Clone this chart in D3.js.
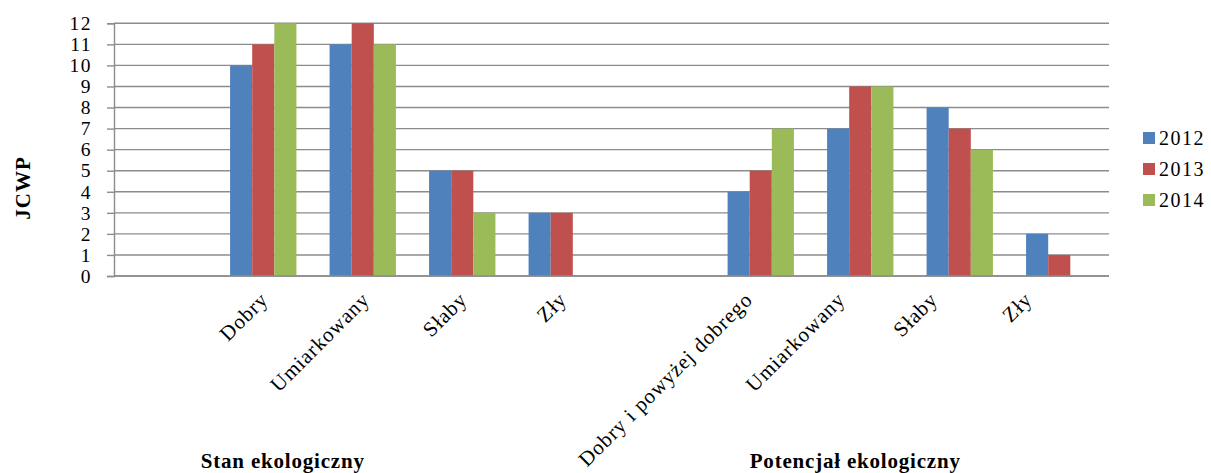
<!DOCTYPE html>
<html>
<head>
<meta charset="utf-8">
<script src="https://cdn.jsdelivr.net/npm/d3@7"></script>
<style>
  html, body { margin: 0; padding: 0; background: #fff; }
  svg { display: block; }
  svg text { font-family: "Liberation Serif", "Times New Roman", "DejaVu Serif", serif; fill: #000; }
</style>
</head>
<body>
<svg id="chart" width="1211" height="473"></svg>
<script>
// Category slots along the x axis (empty slots separate the two groups)
const categories = ["", "Dobry", "Umiarkowany", "Słaby", "Zły", "", "Dobry i powyżej dobrego", "Umiarkowany", "Słaby", "Zły"];
const groupNames = ["Stan ekologiczny", "Potencjał ekologiczny"];
const groupSpans = [[0, 4], [5, 9]];
const seriesNames = ["2012", "2013", "2014"];
const values2012 = [null, 10, 11, 5, 3, null, 4, 7, 8, 2];
const values2013 = [null, 11, 12, 5, 3, null, 5, 9, 7, 1];
const values2014 = [null, 12, 11, 3, null, null, 7, 9, 6, null];
const yTicks = [0, 1, 2, 3, 4, 5, 6, 7, 8, 9, 10, 11, 12];
const colors = ["#4F81BD", "#C0504D", "#9BBB59"];

// Layout
const SERIF = '"Liberation Serif", "Times New Roman", "DejaVu Serif", serif';
const plot = { left: 114, right: 1109, top: 23.3, bottom: 276 };
const labelShift = [0, 5, 7, 5, 5, 0, -8, -15, -22, -27];
const groupLabelShift = [-80, -5];

const series = [values2012, values2013, values2014];
const svg = d3.select("#chart");

const x = d3.scaleBand()
  .domain(d3.range(categories.length))
  .range([plot.left, plot.right])
  .paddingInner(0).paddingOuter(0);

// gap width 50% of a bar group
const bw = x.bandwidth();
const gap = bw * 0.5 / 1.5;
const xs = d3.scaleBand()
  .domain(d3.range(seriesNames.length))
  .range([gap / 2, bw - gap / 2]);

const y = d3.scaleLinear().domain([0, 12]).range([plot.bottom, plot.top]);

// gridlines
svg.append("g")
  .selectAll("line")
  .data(yTicks)
  .join("line")
  .attr("x1", plot.left).attr("x2", plot.right)
  .attr("y1", d => y(d)).attr("y2", d => y(d))
  .attr("stroke", "#8c8c8c").attr("stroke-width", 1.4);

// bars
const barG = svg.append("g");
series.forEach((vals, si) => {
  barG.append("g")
    .selectAll("rect")
    .data(vals.map((v, i) => ({ v, i })).filter(d => d.v != null))
    .join("rect")
    .attr("x", d => x(d.i) + xs(si))
    .attr("width", xs.bandwidth())
    .attr("y", d => y(d.v))
    .attr("height", d => y(0) - y(d.v))
    .attr("fill", colors[si]);
});

// y axis
const yAxis = d3.axisLeft(y).tickValues(yTicks).tickSize(7).tickPadding(15).tickFormat(d3.format("d"));
const yg = svg.append("g").attr("transform", `translate(${plot.left},0)`).call(yAxis)
  .attr("font-family", SERIF).attr("font-size", 19.5);
yg.select(".domain").attr("stroke", "#8c8c8c").attr("stroke-width", 1.4);
yg.selectAll(".tick line").attr("stroke", "#8c8c8c").attr("stroke-width", 1.4);
yg.selectAll(".tick text")
  .attr("font-family", SERIF)
  .attr("font-size", 19.5)
  .attr("letter-spacing", "1.5px")
  .attr("fill", "#000");

// x axis line
svg.append("line")
  .attr("x1", plot.left).attr("x2", plot.right)
  .attr("y1", y(0)).attr("y2", y(0))
  .attr("stroke", "#8c8c8c").attr("stroke-width", 1.4);

// rotated category labels
svg.append("g")
  .selectAll("text")
  .data(categories.map((c, i) => ({ c, i })).filter(d => d.c !== ""))
  .join("text")
  .attr("transform", d => `translate(${x(d.i) + bw / 2 + labelShift[d.i] + 1},${y(0) + 25}) rotate(-45)`)
  .attr("text-anchor", "end")
  .attr("font-family", SERIF)
  .attr("font-size", 21)
  .attr("letter-spacing", "0.9px")
  .text(d => d.c);

// group labels
svg.append("g")
  .selectAll("text")
  .data(groupNames.map((g, i) => ({ g, i })))
  .join("text")
  .attr("x", d => (x(groupSpans[d.i][0]) + x(groupSpans[d.i][1]) + bw) / 2 + groupLabelShift[d.i])
  .attr("y", 468)
  .attr("text-anchor", "middle")
  .attr("font-family", SERIF)
  .attr("font-size", 21)
  .attr("font-weight", "bold")
  .attr("letter-spacing", "0.8px")
  .text(d => d.g);

// y axis title
svg.append("text")
  .attr("transform", `translate(30,188) rotate(-90)`)
  .attr("text-anchor", "middle")
  .attr("font-family", SERIF)
  .attr("font-size", 21)
  .attr("font-weight", "bold")
  .attr("letter-spacing", "1px")
  .text("JCWP");

// legend
const lg = svg.append("g").attr("transform", "translate(1143,138)");
const items = lg.selectAll("g").data(seriesNames).join("g")
  .attr("transform", (d, i) => `translate(0,${i * 31})`);
items.append("rect").attr("x", 0).attr("y", -6).attr("width", 12).attr("height", 12)
  .attr("fill", (d, i) => colors[i]);
items.append("text").attr("x", 16).attr("y", 7)
  .attr("font-family", SERIF)
  .attr("font-size", 20)
  .attr("letter-spacing", "1.5px")
  .text(d => d);
</script>
</body>
</html>
